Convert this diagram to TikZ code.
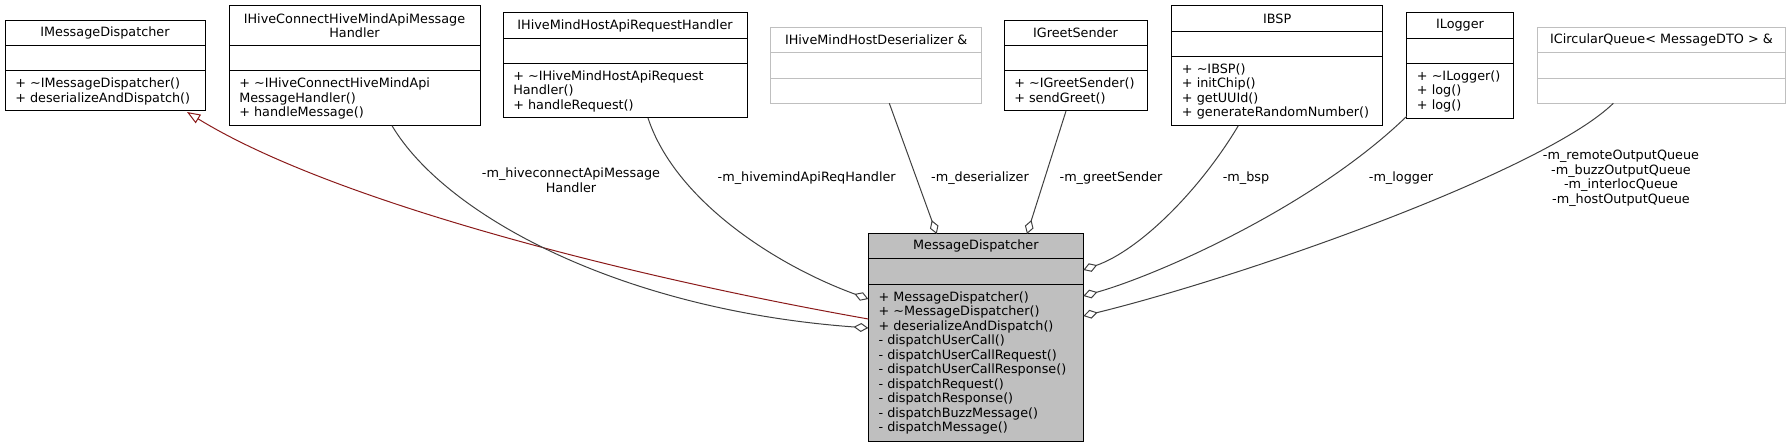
\documentclass[tikz,border=0pt]{standalone}
\usepackage{fontspec}
\setmainfont{DejaVu Sans}
\usetikzlibrary{arrows.meta,calc}
\definecolor{edgegray}{HTML}{404040}
\definecolor{inhred}{HTML}{8B1A1A}
\definecolor{boxgray}{HTML}{BFBFBF}
\tikzset{
  umlfont/.style={font=\fontsize{9.6pt}{10.875pt}\selectfont},
  clsbox/.style={draw=black, line width=0.75pt, inner sep=0pt, outer sep=0pt},
  clsline/.style={draw=black, line width=0.75pt},
  refbox/.style={draw=boxgray, line width=0.75pt, inner sep=0pt, outer sep=0pt},
  refline/.style={draw=boxgray, line width=0.75pt},
  mainbox/.style={draw=black, fill=boxgray, line width=0.75pt, inner sep=0pt, outer sep=0pt},
  titletext/.style={umlfont, align=center, inner sep=0pt},
  opstext/.style={umlfont, align=left, anchor=north west, inner sep=0pt},
  lbltext/.style={umlfont, align=center, inner sep=0pt},
  aggedge/.style={draw=edgegray, line width=0.75pt, -{Diamond[open, length=11pt, width=6.75pt]}},
  inhedge/.style={draw=inhred, line width=0.75pt, -{Triangle[open, length=10pt, width=7.5pt]}}
}
% #1 name, #2 box style, #3 line style, #4 x1, #5 y1, #6 x2, #7 y2, #8 divider1, #9 divider2
\newcommand\umlcls[9]{%
  \node[#2, anchor=north west, minimum width={(#6-#4)*0.75pt}, minimum height={(#7-#5)*0.75pt}] (#1) at (#4,#5) {};
  \draw[#3] ($(#1.north west)+(0,{#8-#5})$) -- ($(#1.north east)+(0,{#8-#5})$);
  \draw[#3] ($(#1.north west)+(0,{#9-#5})$) -- ($(#1.north east)+(0,{#9-#5})$);
  \coordinate (#1-t) at ($(#1.north)+(0,{(#8-#5)/2})$);
  \coordinate (#1-m) at ($(#1.north west)+(10,{#9-#5+6.5})$);
}
\newcommand\opsstrut{\rule{0pt}{7.5pt}}
\begin{document}
\begin{tikzpicture}[x=0.75pt, y=-0.75pt]
\useasboundingbox (0,0) rectangle (1791,448);

% classes
\umlcls{imd}{clsbox}{clsline}{5}{21}{205}{111}{45.7}{71}
\node[titletext] (imd-title) at (imd-t) {IMessageDispatcher};
\node[opstext] (imd-ops) at (imd-m) {\opsstrut+ \textasciitilde IMessageDispatcher()\\+ deserializeAndDispatch()};

\umlcls{ihc}{clsbox}{clsline}{229}{5.7}{480}{125.7}{45.7}{71}
\node[titletext] (ihc-title) at (ihc-t) {IHiveConnectHiveMindApiMessage\\Handler};
\node[opstext] (ihc-ops) at (ihc-m) {\opsstrut+ \textasciitilde IHiveConnectHiveMindApi\\MessageHandler()\\+ handleMessage()};

\umlcls{ihr}{clsbox}{clsline}{503}{12.7}{747}{118}{38.3}{63.3}
\node[titletext] (ihr-title) at (ihr-t) {IHiveMindHostApiRequestHandler};
\node[opstext] (ihr-ops) at (ihr-m) {\opsstrut+ \textasciitilde IHiveMindHostApiRequest\\Handler()\\+ handleRequest()};

\umlcls{ides}{refbox}{refline}{770.7}{27.3}{981.7}{103.3}{52.7}{78.3}
\node[titletext] (ides-title) at (ides-t) {IHiveMindHostDeserializer \&};

\umlcls{igs}{clsbox}{clsline}{1004}{20.7}{1147}{111}{45.7}{71}
\node[titletext] (igs-title) at (igs-t) {IGreetSender};
\node[opstext] (igs-ops) at (igs-m) {\opsstrut+ \textasciitilde IGreetSender()\\+ sendGreet()};

\umlcls{ibsp}{clsbox}{clsline}{1171.7}{5.7}{1382.7}{125.7}{31.7}{56.7}
\node[titletext] (ibsp-title) at (ibsp-t) {IBSP};
\node[opstext] (ibsp-ops) at (ibsp-m) {\opsstrut+ \textasciitilde IBSP()\\+ initChip()\\+ getUUId()\\+ generateRandomNumber()};

\umlcls{ilog}{clsbox}{clsline}{1406.7}{12.7}{1513.3}{118.3}{38.3}{63.3}
\node[titletext] (ilog-title) at (ilog-t) {ILogger};
\node[opstext] (ilog-ops) at (ilog-m) {\opsstrut+ \textasciitilde ILogger()\\+ log()\\+ log()};

\umlcls{icq}{refbox}{refline}{1537.3}{27.3}{1785.7}{103.3}{52.7}{78.3}
\node[titletext] (icq-title) at (icq-t) {ICircularQueue< MessageDTO > \&};

\umlcls{md}{mainbox}{clsline}{868.3}{234}{1083.3}{441.7}{258.3}{284.3}
\node[titletext] (md-title) at (md-t) {MessageDispatcher};
\node[opstext] (md-ops) at (md-m) {\opsstrut+ MessageDispatcher()\\+ \textasciitilde MessageDispatcher()\\+ deserializeAndDispatch()\\- dispatchUserCall()\\- dispatchUserCallRequest()\\- dispatchUserCallResponse()\\- dispatchRequest()\\- dispatchResponse()\\- dispatchBuzzMessage()\\- dispatchMessage()};

% connectors
\draw[inhedge] ($(md.north west)+(0,85)$) .. controls (620,275) and (330,200) .. ($(imd.south west)+(182,1)$);
\draw[aggedge] ($(ihc.south west)+(163,0)$) .. controls (445,215) and (620,310) .. ($(md.north west)+(0,94)$);
\draw[aggedge] ($(ihr.south west)+(145,0)$) .. controls (675,200) and (775,265) .. ($(md.north west)+(0,65)$);
\draw[aggedge] ($(ides.south west)+(118.6,0)$) -- ($(md.north west)+(68.4,0)$);
\draw[aggedge] ($(igs.south west)+(62,0)$) -- ($(md.north west)+(158.7,0)$);
\draw[aggedge] ($(ibsp.south west)+(66.6,0)$) .. controls (1200,190) and (1140,250) .. ($(md.north east)+(0,36)$);
\draw[aggedge] ($(ilog.south west)+(0,-2)$) .. controls (1312,208) and (1155,276) .. ($(md.north east)+(0,62)$);
\draw[aggedge] ($(icq.south west)+(76,0)$) .. controls (1545,170) and (1250,275) .. ($(md.north east)+(0,82)$);

% labels
\node[lbltext] (l-ihc) at (571,180) {-m\_hiveconnectApiMessage\\Handler};
\node[lbltext] (l-ihr) at (806.7,178) {-m\_hivemindApiReqHandler};
\node[lbltext] (l-ides) at (980,178) {-m\_deserializer};
\node[lbltext] (l-igs) at (1111,178) {-m\_greetSender};
\node[lbltext] (l-ibsp) at (1246,178) {-m\_bsp};
\node[lbltext] (l-ilog) at (1401,178) {-m\_logger};
\node[lbltext] (l-icq) at (1621,178.5) {-m\_remoteOutputQueue\\-m\_buzzOutputQueue\\-m\_interlocQueue\\-m\_hostOutputQueue};
\end{tikzpicture}
\end{document}
